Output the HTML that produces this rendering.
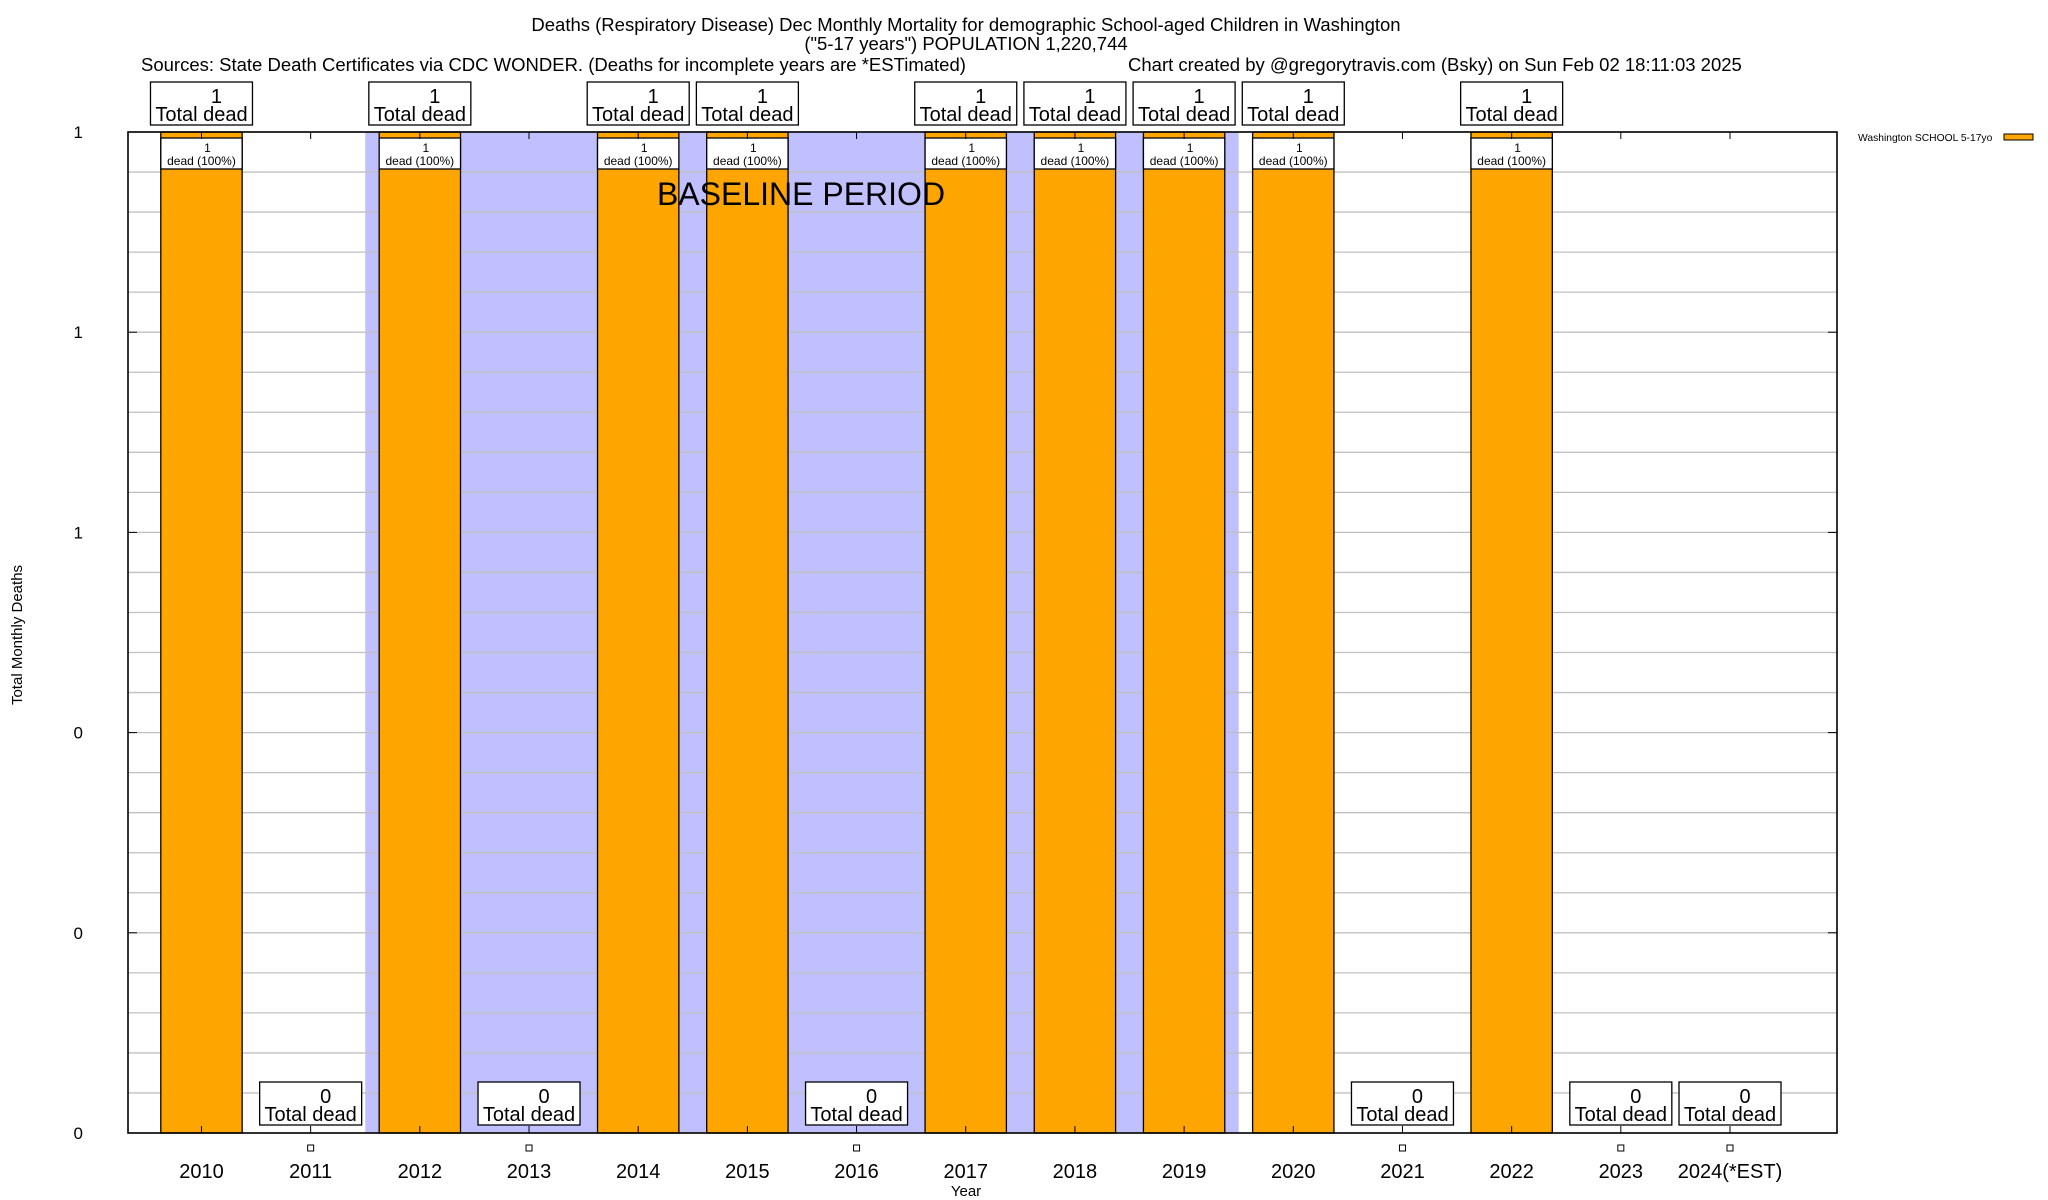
<!DOCTYPE html>
<html><head><meta charset="utf-8"><style>
html,body{margin:0;padding:0;background:#fff;}
svg{display:block;font-family:"Liberation Sans",sans-serif;}
</style></head><body>
<svg id="chart" width="2048" height="1200" viewBox="0 0 2048 1200" xmlns="http://www.w3.org/2000/svg">
<text x="966" y="31" font-size="18.5" text-anchor="middle">Deaths (Respiratory Disease) Dec Monthly Mortality for demographic School-aged Children in Washington</text>
<text x="966" y="50" font-size="18.5" text-anchor="middle">("5-17 years") POPULATION 1,220,744</text>
<text x="141" y="71" font-size="18.5">Sources: State Death Certificates via CDC WONDER. (Deaths for incomplete years are *ESTimated)</text>
<text x="1128" y="71" font-size="18.5">Chart created by @gregorytravis.com (Bsky) on Sun Feb 02 18:11:03 2025</text>
<g id="plot"></g>
<text x="22" y="635" font-size="15" text-anchor="middle" transform="rotate(-90 22 635)">Total Monthly Deaths</text>
<text x="966" y="1196" font-size="15" text-anchor="middle">Year</text>
<g>
<text x="1858" y="141" font-size="10.3">Washington SCHOOL 5-17yo</text>
<rect x="2004" y="134" width="29" height="6" fill="#ffa500" stroke="#000" stroke-width="1"/>
</g>
</svg>
<script>
const years = ["2010","2011","2012","2013","2014","2015","2016","2017","2018","2019","2020","2021","2022","2023","2024(*EST)"];
const deaths = [1,0,1,0,1,1,0,1,1,1,1,0,1,0,0];
const yTickValues = [0,0.2,0.4,0.6,0.8,1];
const yTickLabels = ["0","0","0","1","1","1"];
const baselineRange = [1.5,9.5];

const NS="http://www.w3.org/2000/svg";
const L=128,R=1837,T=132,B=1133;
const xMin=-0.673,xMax=14.98,yMin=0,yMax=1;
function xs(i){return L+(i-xMin)/(xMax-xMin)*(R-L);}
function ys(v){return B-(v-yMin)/(yMax-yMin)*(B-T);}
const unit=xs(1)-xs(0);
const barW=unit*0.745;
const g=document.getElementById('plot');
function el(tag,attrs,parent){const e=document.createElementNS(NS,tag);for(const k in attrs)e.setAttribute(k,attrs[k]);(parent||g).appendChild(e);return e;}

const band=el('rect',{x:xs(baselineRange[0]),y:T,width:xs(baselineRange[1])-xs(baselineRange[0]),height:B-T,fill:'#c0c0ff'});



for(let k=0;k<=25;k++){
  const v=k*0.04;
  const y=ys(v);
  const gl=el('line',{x1:L,x2:R,y1:y,y2:y,stroke:'#c0c0c0','stroke-width':1.3});
  
  
}

years.forEach((yr,i)=>{
  const cx=xs(i);
  const v=deaths[i];
  if(v>0){
    const b=el('rect',{x:cx-barW/2,y:ys(v),width:barW,height:ys(0)-ys(v),fill:'#ffa500',stroke:'#000','stroke-width':1.3});
    
    
    const ib=el('rect',{x:cx-barW/2,y:ys(v)+6,width:barW,height:31,fill:'#fff',stroke:'#000','stroke-width':1.3});
    
    
    const t1=el('text',{x:cx+6,y:ys(v)+20,'font-size':12,'text-anchor':'middle'});t1.textContent=String(v);
    
    
    const t2=el('text',{x:cx,y:ys(v)+33,'font-size':12,'text-anchor':'middle'});t2.textContent='dead (100%)';
    
    
  } else {
    const m=el('rect',{x:cx-3,y:1145,width:6,height:6,fill:'#fff',stroke:'#000','stroke-width':1});
    
    
  }
  const by = v>0 ? 82 : 1082;
  const tb=el('rect',{x:cx-51,y:by,width:102,height:43,fill:'#fff',stroke:'#000','stroke-width':1.3});
  
  
  const c=el('text',{x:cx+15,y:by+21,'font-size':20,'text-anchor':'middle'});c.textContent=String(v);
  
  
  const tt=el('text',{x:cx,y:by+39,'font-size':20,'text-anchor':'middle'});tt.textContent='Total dead';
  
  
  el('line',{x1:cx,x2:cx,y1:B,y2:B-7,stroke:'#000','stroke-width':1});
  el('line',{x1:cx,x2:cx,y1:T,y2:T+7,stroke:'#000','stroke-width':1});
  const xl=el('text',{x:cx,y:1178,'font-size':20,'text-anchor':'middle'});xl.textContent=yr;
  
  
});

yTickValues.forEach((v,i)=>{
  const y=ys(v);
  el('line',{x1:L,x2:L+9,y1:y,y2:y,stroke:'#000','stroke-width':1});
  el('line',{x1:R,x2:R-9,y1:y,y2:y,stroke:'#000','stroke-width':1});
  const t=el('text',{x:83,y:y+6,'font-size':17,'text-anchor':'end'});t.textContent=yTickLabels[i];
  
  
});

const frame=el('rect',{x:L,y:T,width:R-L,height:B-T,fill:'none',stroke:'#000','stroke-width':1.6});



const bt=el('text',{x:801,y:205,'font-size':32,'text-anchor':'middle'});
bt.textContent='BASELINE PERIOD';


</script>
</body></html>
